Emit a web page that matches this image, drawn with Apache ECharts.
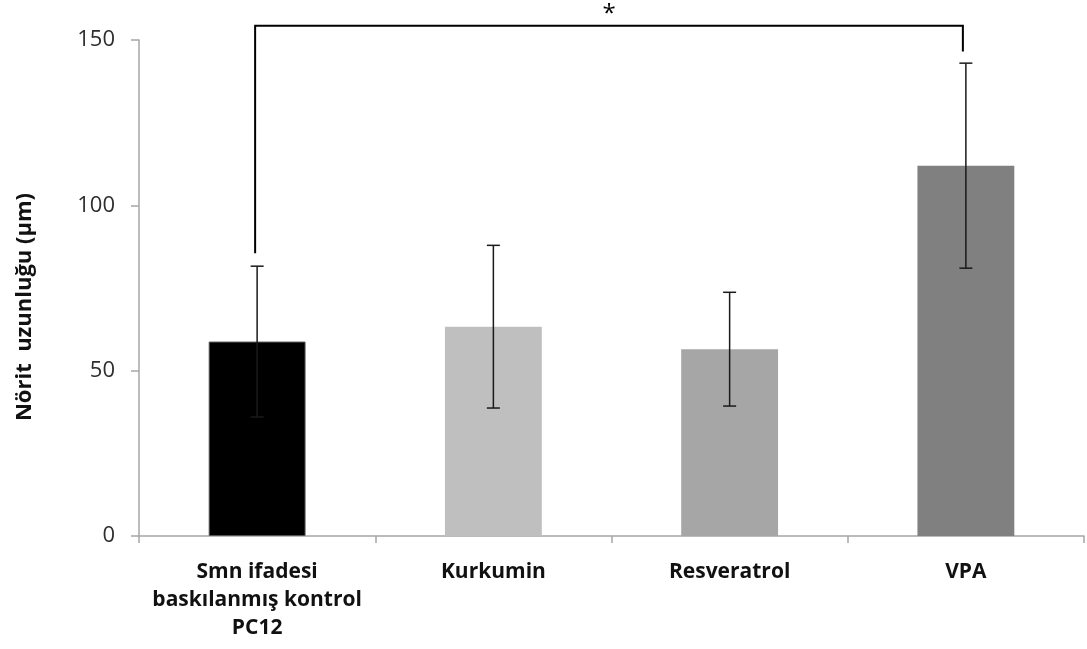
<!DOCTYPE html>
<html>
<head>
<meta charset="utf-8">
<script src="https://cdn.jsdelivr.net/npm/echarts@6/dist/echarts.min.js"></script>
<style>
  html, body { margin: 0; padding: 0; background: #ffffff; }
  #chart { width: 1087px; height: 649px; }
</style>
</head>
<body>
<div id="chart"></div>
<script>
// Neurite length per treatment group (mean ± SD, µm)
const categories = ['Smn ifadesi\nbaskılanmış kontrol\nPC12', 'Kurkumin', 'Resveratrol', 'VPA'];
const means = [58.8, 63.3, 56.5, 112.0];
const errors = [22.8, 24.6, 17.2, 31.0];
const barColors = ['#000000', '#bfbfbf', '#a6a6a6', '#808080'];
const yTicks = { min: 0, max: 150, interval: 50 };

// Significance bracket between first and last group
const sigPair = [0, 3];
const sigLevels = { left: 85.5, right: 146.5, top: 154.3 };
const sigLabel = '*';

const FONT = '"Open Sans", sans-serif';

const chart = echarts.init(document.getElementById('chart'));

chart.setOption({
  backgroundColor: '#ffffff',
  animation: false,
  grid: { left: 139, right: 3, top: 40, bottom: 113, containLabel: false },
  xAxis: {
    type: 'category',
    data: categories,
    axisLine: { lineStyle: { color: '#a6a6a6', width: 1.5 } },
    axisTick: { show: true, length: 7, lineStyle: { color: '#a6a6a6', width: 1.5 } },
    axisLabel: {
      margin: 22,
      color: '#111111',
      fontFamily: FONT,
      fontWeight: 'bold',
      fontSize: 21,
      lineHeight: 28,
      interval: 0
    }
  },
  yAxis: {
    type: 'value',
    min: yTicks.min,
    max: yTicks.max,
    interval: yTicks.interval,
    splitLine: { show: false },
    axisLine: { show: true, lineStyle: { color: '#a6a6a6', width: 1.5 } },
    axisTick: { show: true, length: 8, lineStyle: { color: '#a6a6a6', width: 1.5 } },
    axisLabel: {
      margin: 24,
      color: '#2e2e2e',
      fontFamily: FONT,
      fontSize: 22
    }
  },
  graphic: [{
    type: 'text',
    x: 25,
    y: 307,
    rotation: Math.PI / 2,
    style: {
      text: 'Nörit  uzunluğu (µm)',
      align: 'center',
      verticalAlign: 'middle',
      fontFamily: FONT,
      fontWeight: 'bold',
      fontSize: 22,
      fill: '#111111'
    }
  }],
  series: [
    {
      type: 'bar',
      barWidth: '41%',
      data: means.map((v, i) => ({
        value: v,
        itemStyle: {
          color: barColors[i],
          borderColor: i === 0 ? '#555555' : 'transparent',
          borderWidth: i === 0 ? 1 : 0
        }
      })),
      z: 2
    },
    {
      // error bars
      type: 'custom',
      data: means.map((m, i) => [i, m - errors[i], m + errors[i]]),
      renderItem: function (params, api) {
        const lo = api.coord([api.value(0), api.value(1)]);
        const hi = api.coord([api.value(0), api.value(2)]);
        const half = 6.5;
        const style = { stroke: '#1a1a1a', lineWidth: 1.5 };
        return {
          type: 'group',
          children: [
            { type: 'line', shape: { x1: hi[0], y1: hi[1], x2: lo[0], y2: lo[1] }, style },
            { type: 'line', shape: { x1: hi[0] - half, y1: hi[1], x2: hi[0] + half, y2: hi[1] }, style },
            { type: 'line', shape: { x1: lo[0] - half, y1: lo[1], x2: lo[0] + half, y2: lo[1] }, style }
          ]
        };
      },
      z: 3
    },
    {
      // significance bracket
      type: 'custom',
      clip: false,
      data: [[sigPair[0], sigPair[1], sigLevels.left, sigLevels.right, sigLevels.top]],
      renderItem: function (params, api) {
        const a = api.coord([api.value(0), api.value(2)]);
        const b = api.coord([api.value(1), api.value(3)]);
        const ta = api.coord([api.value(0), api.value(4)]);
        const tb = api.coord([api.value(1), api.value(4)]);
        const xa = a[0] - 2, xb = b[0] - 3;
        return {
          type: 'group',
          children: [
            {
              type: 'polyline',
              shape: { points: [[xa, a[1]], [xa, ta[1]], [xb, tb[1]], [xb, b[1]]] },
              style: { stroke: '#000000', lineWidth: 2, fill: null }
            },
            {
              type: 'text',
              style: {
                text: sigLabel,
                x: (xa + xb) / 2,
                y: ta[1],
                align: 'center',
                verticalAlign: 'bottom',
                fontFamily: FONT,
                fontSize: 24,
                fill: '#000000'
              }
            }
          ]
        };
      },
      z: 4
    }
  ]
});
</script>
</body>
</html>
